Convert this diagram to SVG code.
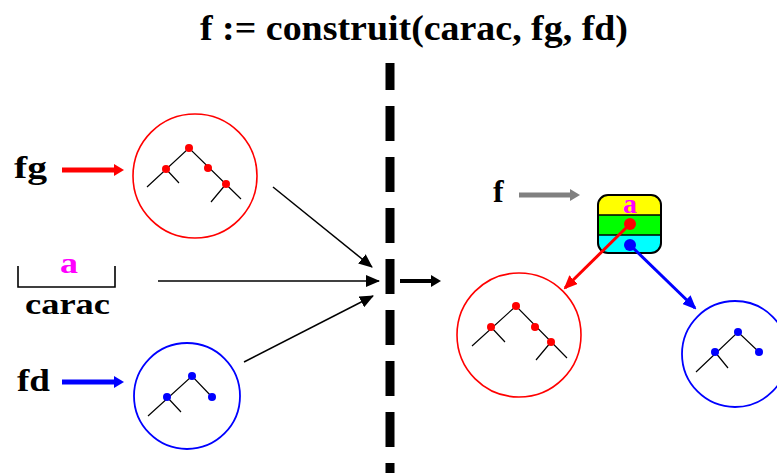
<svg xmlns="http://www.w3.org/2000/svg" width="777" height="473" viewBox="0 0 777 473">
<style>
.lbl{font-family:"Liberation Serif","Times New Roman",serif;font-weight:bold;fill:#000}
.mag{font-family:"Liberation Serif","Times New Roman",serif;font-weight:bold;fill:#ff00ff}
.tree{fill:none;stroke:#000;stroke-width:1.2}
.rc{fill:none;stroke:#ff0000;stroke-width:1.6}
.bc{fill:none;stroke:#0000ff;stroke-width:1.8}
.rd{fill:#ff0000}
.bd{fill:#0000ff}
.thin{stroke:#000;stroke-width:1.5;fill:none}
</style>
<defs>
<marker id="ahK" viewBox="0 0 14 12" refX="13" refY="6" markerWidth="14" markerHeight="12" markerUnits="userSpaceOnUse" orient="auto"><path d="M0,0 L14,6 L0,12 z" fill="#000"/></marker>
<marker id="ahR" viewBox="0 0 14 12" refX="12" refY="6" markerWidth="14" markerHeight="12" markerUnits="userSpaceOnUse" orient="auto"><path d="M0,0 L14,6 L0,12 z" fill="#ff0000"/></marker>
<marker id="ahB" viewBox="0 0 14 12" refX="12" refY="6" markerWidth="14" markerHeight="12" markerUnits="userSpaceOnUse" orient="auto"><path d="M0,0 L14,6 L0,12 z" fill="#0000ff"/></marker>
<marker id="thR" viewBox="0 0 10 12" refX="1" refY="6" markerWidth="10" markerHeight="12" markerUnits="userSpaceOnUse" orient="auto"><path d="M0,0 L10,6 L0,12 z" fill="#ff0000"/></marker>
<marker id="thB" viewBox="0 0 10 12" refX="1" refY="6" markerWidth="10" markerHeight="12" markerUnits="userSpaceOnUse" orient="auto"><path d="M0,0 L10,6 L0,12 z" fill="#0000ff"/></marker>
<marker id="thG" viewBox="0 0 10 12" refX="1" refY="6" markerWidth="10" markerHeight="12" markerUnits="userSpaceOnUse" orient="auto"><path d="M0,0 L10,6 L0,12 z" fill="#808080"/></marker>
<marker id="thK" viewBox="0 0 10 12" refX="1" refY="6" markerWidth="10" markerHeight="12" markerUnits="userSpaceOnUse" orient="auto"><path d="M0,0 L10,6 L0,12 z" fill="#000"/></marker>
<clipPath id="boxclip"><rect x="598" y="195" width="63" height="58" rx="10" ry="10"/></clipPath>
</defs>
<rect width="777" height="473" fill="#fff"/>

<g id="title"><text class="lbl" x="200" y="40" font-size="35" textLength="428" lengthAdjust="spacingAndGlyphs">f := construit(carac, fg, fd)</text></g>

<g id="separator"><line x1="390" y1="63" x2="390" y2="473" stroke="#000" stroke-width="9" stroke-dasharray="35 16" stroke-dashoffset="8"/></g>

<g id="fg">
<text class="lbl" x="14" y="178" font-size="32" textLength="33" lengthAdjust="spacingAndGlyphs">fg</text>
<circle class="rc" cx="195" cy="176" r="62"/>
<path class="tree" d="M147,187 L189,148 L241,199 M166,169 L179,183 M226,184 L211,202"/>
<circle class="rd" cx="189" cy="148" r="4"/><circle class="rd" cx="166" cy="169" r="4"/><circle class="rd" cx="208" cy="168" r="4"/><circle class="rd" cx="226" cy="184" r="4"/>
</g>

<g id="carac">
<path d="M18,266 L18,287 L115,287 L115,266" fill="none" stroke="#000" stroke-width="1.6"/>
<text class="mag" x="60" y="273" font-size="30" textLength="18" lengthAdjust="spacingAndGlyphs">a</text>
<text class="lbl" x="25" y="314" font-size="30" textLength="85" lengthAdjust="spacingAndGlyphs">carac</text>
</g>

<g id="fd">
<text class="lbl" x="17" y="391" font-size="32" textLength="33" lengthAdjust="spacingAndGlyphs">fd</text>
<circle class="bc" cx="187" cy="396" r="53"/>
<path class="tree" d="M148,416 L192,376 L212,397 M167,397 L181,412"/>
<circle class="bd" cx="192" cy="376" r="4"/><circle class="bd" cx="167" cy="397" r="4"/><circle class="bd" cx="212" cy="397" r="4"/>
</g>

<g id="f">
<text class="lbl" x="493" y="202" font-size="32">f</text>
</g>

<g id="node-f">
<g clip-path="url(#boxclip)">
<rect x="598" y="195" width="63" height="20" fill="#ffff00"/>
<rect x="598" y="215" width="63" height="20" fill="#00ff00"/>
<rect x="598" y="235" width="63" height="18" fill="#00ffff"/>
</g>
<line x1="598" y1="215" x2="661" y2="215" stroke="#000" stroke-width="1.5"/>
<line x1="598" y1="235" x2="661" y2="235" stroke="#000" stroke-width="1.5"/>
<rect x="598" y="195" width="63" height="58" rx="10" ry="10" fill="none" stroke="#000" stroke-width="2"/>
<text class="mag" x="623" y="213" font-size="28" textLength="14" lengthAdjust="spacingAndGlyphs">a</text>
<circle class="rd" cx="630" cy="224" r="6"/>
<circle class="bd" cx="630" cy="245" r="6"/>
</g>

<g id="result-left">
<circle class="rc" cx="519" cy="335" r="62"/>
<path class="tree" d="M472,346 L516,306 L567,358 M491,327 L505,342 M551,342 L536,360"/>
<circle class="rd" cx="516" cy="306" r="4"/><circle class="rd" cx="491" cy="327" r="4"/><circle class="rd" cx="535" cy="327" r="4"/><circle class="rd" cx="551" cy="342" r="4"/>
</g>

<g id="result-right">
<circle class="bc" cx="735" cy="354" r="53"/>
<path class="tree" d="M696,372 L738,332 L759,352 M715,352 L728,368"/>
<circle class="bd" cx="738" cy="332" r="4"/><circle class="bd" cx="715" cy="352" r="4"/><circle class="bd" cx="759" cy="352" r="4"/>
</g>

<g id="connectors">
<line x1="62" y1="170" x2="115" y2="170" stroke="#ff0000" stroke-width="5" marker-end="url(#thR)"/>
<line x1="62" y1="382" x2="115" y2="382" stroke="#0000ff" stroke-width="5" marker-end="url(#thB)"/>
<line x1="519" y1="195" x2="571" y2="195" stroke="#808080" stroke-width="5" marker-end="url(#thG)"/>
<line class="thin" x1="273" y1="187" x2="372" y2="267" marker-end="url(#ahK)"/>
<line class="thin" x1="158" y1="281" x2="379" y2="281" marker-end="url(#ahK)"/>
<line class="thin" x1="244" y1="362" x2="373" y2="296" marker-end="url(#ahK)"/>
<line x1="400" y1="281" x2="432" y2="281" stroke="#000" stroke-width="4" marker-end="url(#thK)"/>
<line x1="630" y1="224" x2="565" y2="288" stroke="#ff0000" stroke-width="3" marker-end="url(#ahR)"/>
<line x1="630" y1="245" x2="695" y2="308" stroke="#0000ff" stroke-width="3" marker-end="url(#ahB)"/>
</g>
</svg>
